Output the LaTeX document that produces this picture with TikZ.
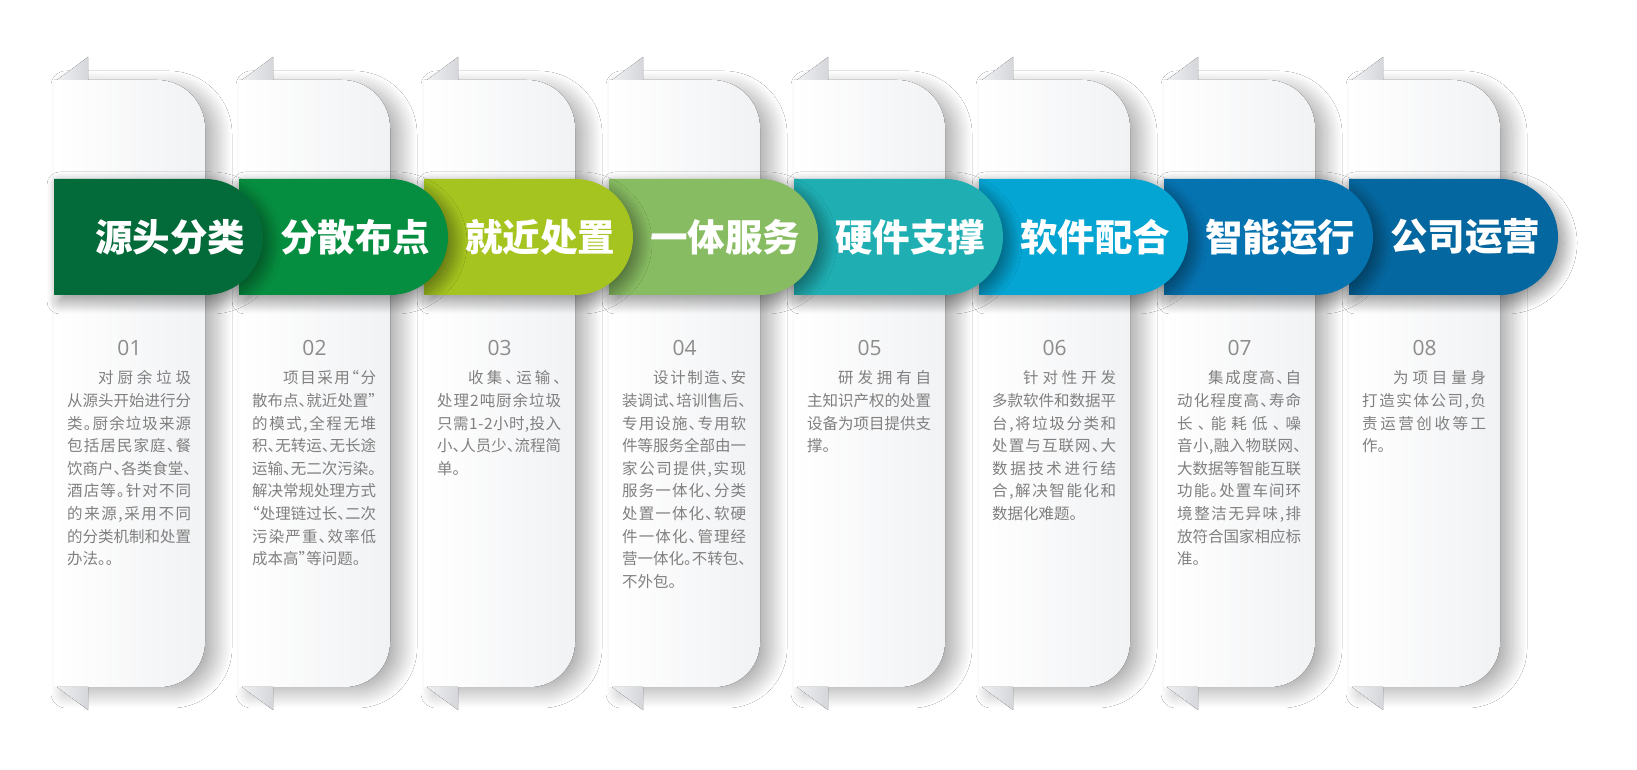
\documentclass[tikz,border=0pt]{standalone}
\usepackage{fontspec}
\usetikzlibrary{shadows.blur}
\newfontfamily\cjk{Noto Sans CJK SC}
\newfontfamily\bodyfont[RawFeature=+halt]{Noto Sans CJK SC}
\newfontfamily\numfont{Open Sans}
\definecolor{b1}{HTML}{036A39}
\definecolor{b2}{HTML}{068E40}
\definecolor{b3}{HTML}{A5C41F}
\definecolor{b4}{HTML}{88BC62}
\definecolor{b5}{HTML}{1FAFB3}
\definecolor{b6}{HTML}{04A5D3}
\definecolor{b7}{HTML}{0673B1}
\definecolor{b8}{HTML}{05679F}
\definecolor{txt}{HTML}{808080}
\definecolor{numc}{HTML}{8C8C8C}
\definecolor{cardR}{HTML}{F1F2F4}
\definecolor{foldL}{HTML}{EEF0F2}
\definecolor{foldR}{HTML}{D4D6DA}
\def\spA#1{#1\futurelet\spnext\spB}
\def\spB{\ifx\spnext\relax\expandafter\spC\else\hskip 0pt plus 1fil minus 0.12em\expandafter\spA\fi}
\def\spC\relax{}
\newcommand\firstl[1]{\hbox to 124pt{\hskip 2em\spA#1\relax}}
\newcommand\midl[1]{\hbox to 124pt{\spA#1\relax}}
\newcommand\lastl[1]{\hbox{#1}}
\tikzset{
  cardbox/.style={left color=white, right color=cardR,
    blur shadow={shadow xshift=12pt, shadow yshift=-6pt, shadow blur radius=15pt, shadow blur steps=40, shadow opacity=32}},
  foldtri/.style={left color=foldL, right color=foldR},
  bannerbox/.style={blur shadow={shadow xshift=6pt, shadow yshift=-6pt, shadow blur radius=13pt, shadow blur steps=40, shadow opacity=45}},
  titletxt/.style={text=white, inner sep=0pt, font=\cjk\bfseries\fontsize{37.5}{40}\selectfont},
  numtxt/.style={text=numc, inner sep=0pt, font=\numfont\fontsize{21}{24}\selectfont},
  bodytxt/.style={text=txt, inner sep=0pt, anchor=base west, font=\bodyfont\fontsize{15.5}{22.6}\selectfont},
}
\begin{document}
\begin{tikzpicture}[x=1pt,y=1pt]
\fill[white] (0,0) rectangle (1637,770);
\useasboundingbox (0,0) rectangle (1637,770);
% cards
\foreach \i in {0,...,7}{
  \pgfmathsetmacro\off{185*\i}
  \fill[cardbox] ({54+\off},690) -- ({157+\off},690) arc[start angle=90,end angle=0,radius=48]
    -- ({205+\off},128) arc[start angle=0,end angle=-90,radius=45] -- ({54+\off},83) -- cycle;
}
% folds
\foreach \i in {0,...,7}{
  \pgfmathsetmacro\off{185*\i}
  \fill[foldtri] ({57+\off},690) -- ({88+\off},690) -- ({88+\off},713) -- cycle;
  \fill[foldtri] ({57+\off},83) -- ({88+\off},83) -- ({88+\off},60) -- cycle;
}
% banners
\foreach \i/\col/\ttl in {7/b8/公司运营,6/b7/智能运行,5/b6/软件配合,4/b5/硬件支撑,3/b4/一体服务,2/b3/就近处置,1/b2/分散布点,0/b1/源头分类}{
  \pgfmathsetmacro\off{185*\i}
  \fill[bannerbox, fill=\col] ({54+\off},591) -- ({205+\off},591) arc[start angle=90,end angle=-90,radius=58]
    -- ({54+\off},475) -- cycle;
  \node[titletxt] (title\i) at ({170+\off},533) {\ttl};
}
% numbers
\foreach \i/\n in {0/01,1/02,2/03,3/04,4/05,5/06,6/07,7/08}{
  \node[numtxt] (num\i) at ({129.5+185*\i},422.5) {\n};
}
% body texts
\node[bodytxt] (body0) at (67,386) {\vtop{%
\firstl{对厨余垃圾}\midl{从源头开始进行分}\midl{类。厨余垃圾来源}\midl{包括居民家庭、餐}%
\midl{饮商户、各类食堂、}\midl{酒店等。针对不同}\midl{的来源,采用不同}\midl{的分类机制和处置}\lastl{办法。。}}};
\node[bodytxt] (body1) at (252,386) {\vtop{%
\firstl{项目采用“分}\midl{散布点、就近处置”}\midl{的模式,全程无堆}\midl{积、无转运、无长途}%
\midl{运输、无二次污染。}\midl{解决常规处理方式}\midl{“处理链过长、二次}\midl{污染严重、效率低}\lastl{成本高”等问题。}}};
\node[bodytxt] (body2) at (437,386) {\vtop{%
\firstl{收集、运输、}\midl{处理2吨厨余垃圾}\midl{只需1-2小时,投入}\midl{小、人员少、流程简}\lastl{单。}}};
\node[bodytxt] (body3) at (622,386) {\vtop{%
\firstl{设计制造、安}\midl{装调试、培训售后、}\midl{专用设施、专用软}\midl{件等服务全部由一}%
\midl{家公司提供,实现}\midl{服务一体化、分类}\midl{处置一体化、软硬}\midl{件一体化、管理经}\midl{营一体化。不转包、}\lastl{不外包。}}};
\node[bodytxt] (body4) at (807,386) {\vtop{%
\firstl{研发拥有自}\midl{主知识产权的处置}\midl{设备为项目提供支}\lastl{撑。}}};
\node[bodytxt] (body5) at (992,386) {\vtop{%
\firstl{针对性开发}\midl{多款软件和数据平}\midl{台,将垃圾分类和}\midl{处置与互联网、大}%
\midl{数据技术进行结}\midl{合,解决智能化和}\lastl{数据化难题。}}};
\node[bodytxt] (body6) at (1177,386) {\vtop{%
\firstl{集成度高、自}\midl{动化程度高、寿命}\midl{长、能耗低、噪}\midl{音小,融入物联网、}%
\midl{大数据等智能互联}\midl{功能。处置车间环}\midl{境整洁无异味,排}\midl{放符合国家相应标}\lastl{准。}}};
\node[bodytxt] (body7) at (1362,386) {\vtop{%
\firstl{为项目量身}\midl{打造实体公司,负}\midl{责运营创收等工}\lastl{作。}}};
\end{tikzpicture}
\end{document}
